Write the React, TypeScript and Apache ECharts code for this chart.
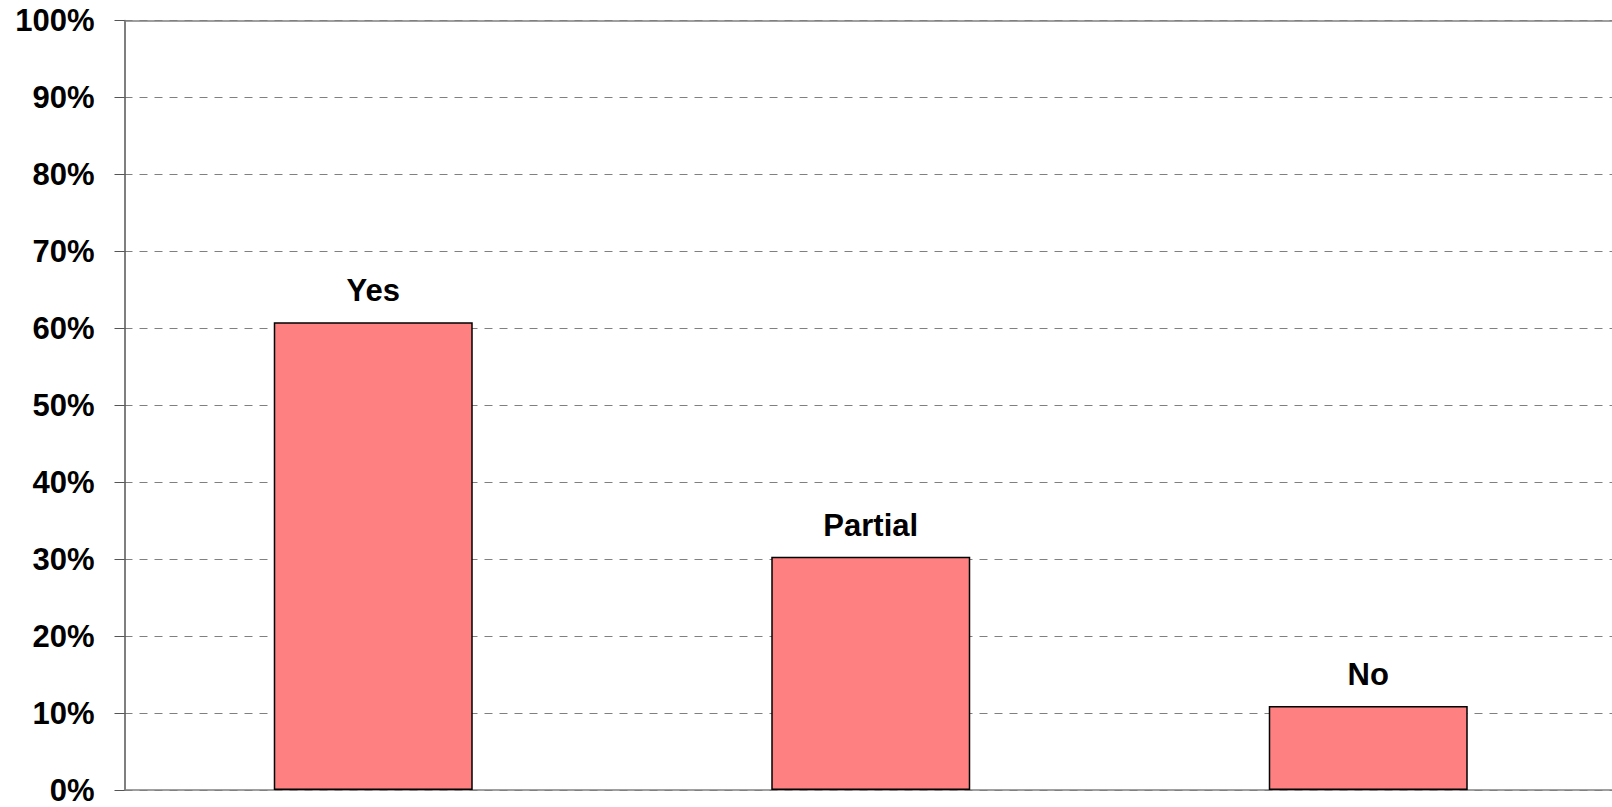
import React, { useEffect, useRef } from "react";
import * as echarts from "echarts";

const categories = ["Yes", "Partial", "No"];
const values = [60.8, 30.3, 10.9];
const tickLabels = ["0%", "10%", "20%", "30%", "40%", "50%", "60%", "70%", "80%", "90%", "100%"];

export default function App() {
  const ref = useRef<HTMLDivElement>(null);
  useEffect(() => {
    if (!ref.current) return;
    const chart = echarts.init(ref.current, null, { renderer: "svg" });
    const font = "'Liberation Sans', Arial, sans-serif";
    chart.setOption({
      animation: false,
      backgroundColor: "#ffffff",
      grid: { left: 124.5, right: 0, top: 20.5, bottom: 17, containLabel: false },
      xAxis: [
        {
          type: "category",
          data: categories,
          axisLine: { show: true, lineStyle: { color: "#808080", width: 1.5 } },
          axisTick: { show: false },
          axisLabel: { show: false },
          splitLine: { show: false },
        },
        {
          type: "category",
          position: "top",
          data: categories,
          axisLine: { show: true, lineStyle: { color: "#808080", width: 1.5 } },
          axisTick: { show: false },
          axisLabel: { show: false },
        },
      ],
      yAxis: {
        type: "value",
        min: 0,
        max: 100,
        interval: 10,
        axisLine: { show: true, lineStyle: { color: "#555555", width: 1.5 } },
        axisTick: { show: true, length: 10, lineStyle: { color: "#555555", width: 1 } },
        axisLabel: {
          margin: 30,
          color: "#000",
          fontFamily: font,
          fontWeight: "bold",
          fontSize: 31,
          formatter: (v: number) => tickLabels[Math.round(v / 10)],
        },
        splitLine: {
          show: true,
          lineStyle: { color: "#808080", type: [8, 7], width: 1 },
        },
      },
      series: [
        {
          type: "bar",
          data: values,
          barWidth: "40%",
          itemStyle: { color: "#FF8080", borderColor: "#000", borderWidth: 1.5 },
          label: {
            show: true,
            position: "top",
            distance: 16,
            formatter: (p: any) => categories[p.dataIndex],
            color: "#000",
            fontFamily: font,
            fontWeight: "bold",
            fontSize: 31,
          },
        },
      ],
    });
    return () => chart.dispose();
  }, []);
  return (
    <div
      ref={ref}
      style={{ position: "fixed", left: 0, top: 0, width: 1617, height: 807, background: "#fff" }}
    />
  );
}
